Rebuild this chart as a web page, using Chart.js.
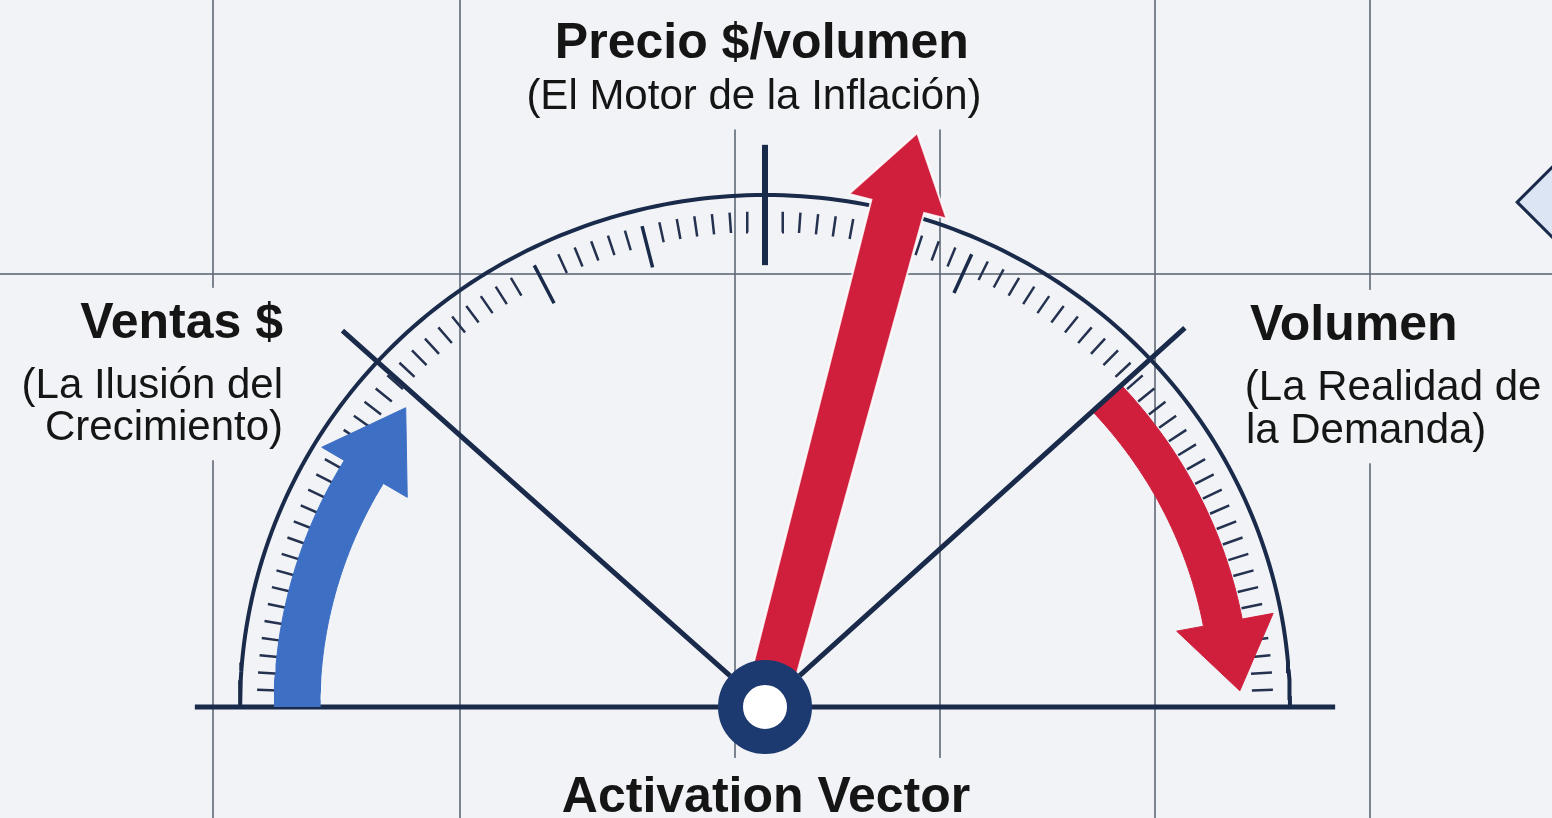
<!DOCTYPE html>
<html lang="es">
<head>
<meta charset="utf-8">
<title>Activation Vector</title>
<script src="https://cdn.jsdelivr.net/npm/chart.js@4.4.1/dist/chart.umd.min.js"></script>
<style>
  html, body { margin: 0; padding: 0; background: #f1f3f6; }
  #wrap { position: relative; width: 1552px; height: 818px; }
</style>
</head>
<body>
<div id="wrap"><canvas id="chart"></canvas></div>
<script>
'use strict';

// dial readings in degrees (0 = right end of the dial, 180 = left end)
const needleAngle = 75.5;               // Precio $/volumen
const salesArrow = [180, 149, 139.5];   // Ventas $: tail, head base, tip
const volumeArrow = [43, 10.7, 2];      // Volumen: tail, head base, tip
const dividerAngles = [137.6, 42.8];
const majorTicks = [90];
const mediumTicks = [117, 104, 66];
const minorStep = 2;

// background grid, measured in dial radii from the hub
const gridX = [-1.051, -0.581, -0.057, 0.333, 0.743, 1.152];
const gridY = [0.846];

// markers
const hubPosition = [{x: 0, y: 0}];
const sideMarker = [{x: 1.528, y: 0.986}];

// texts
const labelTitles = ['Precio $/volumen', 'Ventas $', 'Volumen', 'Activation Vector'];
const labelNotes = [
  ['(El Motor de la Inflación)'],
  ['(La Ilusión del', 'Crecimiento)'],
  ['(La Realidad de', 'la Demanda)'],
  []
];

// ---- layout / style ----
const bgColor = '#f1f3f6';
const navy = '#1a2a4a';
const hubNavy = '#1d3a70';
const blue = '#3d6fc4';
const red = '#cf1f3d';
const px = 1 / 520;

const labelLayout = [
  {align: 'center', x: [-0.006, -0.021], y: [1.268, 1.168], extend: 'top'},
  {align: 'right', x: [-0.918, -0.918, -0.918], y: [0.721, 0.604, 0.522]},
  {align: 'left', x: [0.924, 0.914, 0.916], y: [0.717, 0.600, 0.516]},
  {align: 'center', x: [0.002], y: [-0.205], extend: 'bottom'}
];

const gap = {x: 0, y: null};

function polar(deg, r) {
  const a = deg * Math.PI / 180;
  return {x: r * Math.cos(a), y: r * Math.sin(a)};
}

function arcPoints(from, to, r) {
  const pts = [];
  const n = Math.max(2, Math.ceil(Math.abs(to - from)));
  for (let i = 0; i <= n; i++) pts.push(polar(from + (to - from) * i / n, r));
  return pts;
}

function tickSegments(angles, r0, r1) {
  const pts = [];
  angles.forEach(a => { pts.push(polar(a, r0), polar(a, r1), gap); });
  return pts;
}

function curvedArrow(angles, rIn, rOut, headIn, headOut, rTip) {
  const [tail, base, tip] = angles;
  return [
    ...arcPoints(tail, base, rOut),
    polar(base, headOut),
    polar(tip, rTip),
    polar(base, headIn),
    ...arcPoints(base, tail, rIn)
  ];
}

function needleShape(deg) {
  const a = deg * Math.PI / 180;
  const ux = Math.cos(a), uy = Math.sin(a);
  const at = (r, w) => ({x: ux * r - uy * w * px, y: uy * r + ux * w * px});
  return [at(0.05, -22), at(1.01, -27), at(1.01, -50), at(1.158, 0),
          at(1.01, 50), at(1.01, 27), at(0.05, 22)];
}

let minorAngles = [];
for (let a = minorStep; a < 180; a += minorStep) {
  const near = majorTicks.concat(mediumTicks).some(m => Math.abs(m - a) < 1.1);
  if (!near) minorAngles.push(a);
}

function lineSet(label, data, color, width) {
  return {label, data, showLine: true, borderColor: color, borderWidth: width,
          pointRadius: 0, fill: false, borderCapStyle: 'butt'};
}

function shapeSet(label, data, color, edge, edgeWidth) {
  return {label, data, showLine: true, fill: 'shape', backgroundColor: color,
          borderColor: edge || color, borderWidth: edgeWidth || 1, pointRadius: 0};
}

// label blocks sit on a plain patch that hides the grid behind them
const labelPlugin = {
  id: 'gaugeLabels',
  beforeDatasetsDraw(chart) {
    const {ctx} = chart;
    const xs = chart.scales.x, ys = chart.scales.y;
    ctx.save();
    labelTitles.forEach((title, i) => {
      const lay = labelLayout[i];
      const items = [];
      [title, ...labelNotes[i]].forEach((text, j) => {
        const size = j === 0 ? 50 : 42;
        const font = (j === 0 ? 'bold ' : '') + size + 'px "Liberation Sans", Arial, sans-serif';
        ctx.font = font;
        const w = ctx.measureText(text).width;
        const x = xs.getPixelForValue(lay.x[j]);
        const y = ys.getPixelForValue(lay.y[j]);
        const left = lay.align === 'center' ? x - w / 2 : lay.align === 'right' ? x - w : x;
        items.push({text, font, size, w, x, y, left, align: lay.align});
      });
      let l = Infinity, r = -Infinity, t = Infinity, b = -Infinity;
      items.forEach(it => {
        l = Math.min(l, it.left); r = Math.max(r, it.left + it.w);
        t = Math.min(t, it.y - it.size * 0.8); b = Math.max(b, it.y + it.size * 0.25);
      });
      l -= 10; r += 10; t -= 10; b += 10;
      if (lay.extend === 'top') t = chart.chartArea.top;
      if (lay.extend === 'bottom') { t -= 4; b = chart.chartArea.bottom; }
      ctx.fillStyle = bgColor;
      ctx.fillRect(l, t, r - l, b - t);
      ctx.fillStyle = '#151515';
      ctx.textBaseline = 'alphabetic';
      items.forEach(it => {
        ctx.font = it.font;
        ctx.textAlign = it.align;
        ctx.fillText(it.text, it.x, it.y);
      });
    });
    ctx.restore();
  }
};

const gridColor = 'rgba(95,104,118,0.8)';

new Chart(document.getElementById('chart'), {
  type: 'scatter',
  data: {
    datasets: [
      {label: 'hub', data: hubPosition, showLine: false, pointRadius: 34.5, pointBorderWidth: 25,
       pointBackgroundColor: '#ffffff', pointBorderColor: hubNavy},
      shapeSet('Precio $/volumen', needleShape(needleAngle), red, 'rgba(255,255,255,0.85)', 2),
      lineSet('divisores', tickSegments(dividerAngles, 0.09, 1.09), navy, 5),
      shapeSet('Volumen', curvedArrow(volumeArrow, 0.85, 0.925, 0.798, 0.985, 0.905), red),
      shapeSet('Ventas $', curvedArrow(salesArrow, 0.848, 0.935, 0.795, 0.985, 0.9), blue),
      lineSet('major', tickSegments(majorTicks, 0.863, 1.098), navy, 6),
      lineSet('medium', tickSegments(mediumTicks, 0.885, 0.968), navy, 3.5),
      lineSet('minor', tickSegments(minorAngles, 0.928, 0.968), '#24314f', 2.5),
      lineSet('arco', arcPoints(0, 180, 1), navy, 4),
      lineSet('base', [polar(180, 1.086), polar(0, 1.086)], navy, 5),
      {label: 'marker', data: sideMarker, showLine: false, pointStyle: 'rectRot', pointRadius: 50,
       pointBorderWidth: 3, pointBackgroundColor: '#dbe5f3', pointBorderColor: navy}
    ]
  },
  options: {
    animation: false,
    responsive: true,
    maintainAspectRatio: false,
    events: [],
    layout: {padding: 0, autoPadding: false},
    plugins: {legend: {display: false}, tooltip: {enabled: false}},
    scales: {
      x: {
        type: 'linear', min: -765 / 525, max: 787 / 525,
        afterBuildTicks: s => { s.ticks = gridX.map(v => ({value: v})); },
        grid: {color: gridColor, lineWidth: 2, drawTicks: false},
        border: {display: false},
        ticks: {display: false}
      },
      y: {
        type: 'linear', min: -111 / 512, max: 707 / 512,
        afterBuildTicks: s => { s.ticks = gridY.map(v => ({value: v})); },
        grid: {color: gridColor, lineWidth: 2, drawTicks: false},
        border: {display: false},
        ticks: {display: false}
      }
    }
  },
  plugins: [labelPlugin]
});
</script>
</body>
</html>
